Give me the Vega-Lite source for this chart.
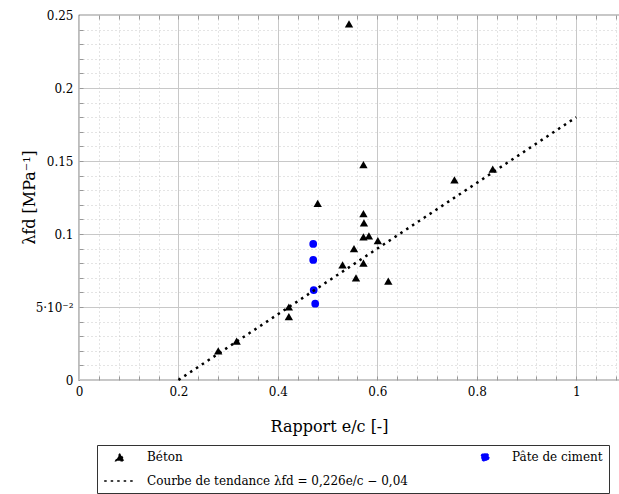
{
"$schema": "https://vega.github.io/schema/vega-lite/v6.json",
"autosize": "none",
"padding": {"left": 79, "top": 15, "right": 0, "bottom": 114},
"width": 547,
"height": 365,
"background": "white",
"config": {
  "font": "DejaVu Serif",
  "view": {"stroke": "#222", "strokeWidth": 1.2},
  "axis": {"labelFont": "DejaVu Serif", "labelFontSize": 12, "labelColor": "black", "titleFont": "DejaVu Serif", "titleColor": "black", "titleFontWeight": "normal", "gridColor": "#c8c8c8", "gridWidth": 1, "tickColor": "#999", "tickWidth": 1, "domain": false, "labelFlush": false, "labelOverlap": false},
  "legend": {"labelFont": "DejaVu Serif", "labelFontSize": 12, "labelColor": "black", "labelLimit": 500}
},
"datasets": {
  "beton": [
    {"ec": 0.543, "lambda": 0.244, "serie": "Béton"},
    {"ec": 0.572, "lambda": 0.1475, "serie": "Béton"},
    {"ec": 0.755, "lambda": 0.137, "serie": "Béton"},
    {"ec": 0.832, "lambda": 0.1445, "serie": "Béton"},
    {"ec": 0.480, "lambda": 0.121, "serie": "Béton"},
    {"ec": 0.572, "lambda": 0.114, "serie": "Béton"},
    {"ec": 0.573, "lambda": 0.1077, "serie": "Béton"},
    {"ec": 0.572, "lambda": 0.098, "serie": "Béton"},
    {"ec": 0.583, "lambda": 0.0988, "serie": "Béton"},
    {"ec": 0.601, "lambda": 0.0954, "serie": "Béton"},
    {"ec": 0.553, "lambda": 0.090, "serie": "Béton"},
    {"ec": 0.530, "lambda": 0.0788, "serie": "Béton"},
    {"ec": 0.572, "lambda": 0.080, "serie": "Béton"},
    {"ec": 0.557, "lambda": 0.070, "serie": "Béton"},
    {"ec": 0.622, "lambda": 0.0678, "serie": "Béton"},
    {"ec": 0.422, "lambda": 0.050, "serie": "Béton"},
    {"ec": 0.422, "lambda": 0.0434, "serie": "Béton"},
    {"ec": 0.317, "lambda": 0.0267, "serie": "Béton"},
    {"ec": 0.280, "lambda": 0.0199, "serie": "Béton"}
  ],
  "pate": [
    {"ec": 0.471, "lambda": 0.0932, "serie": "Pâte de ciment"},
    {"ec": 0.471, "lambda": 0.0822, "serie": "Pâte de ciment"},
    {"ec": 0.472, "lambda": 0.0616, "serie": "Pâte de ciment"},
    {"ec": 0.475, "lambda": 0.0523, "serie": "Pâte de ciment"}
  ],
  "tendance": [
    {"ec": 0.2, "lambda": 0.0, "serie": "Courbe de tendance λfd = 0,226e/c − 0,04"},
    {"ec": 1.0, "lambda": 0.18, "serie": "Courbe de tendance λfd = 0,226e/c − 0,04"}
  ]
},
"layer": [
  {
    "data": {"name": "beton"},
    "mark": {"type": "point", "filled": true, "strokeWidth": 0, "opacity": 1},
    "encoding": {
      "x": {"field": "ec", "type": "quantitative", "scale": {"domain": [0, 1.1], "nice": false, "zero": false},
        "axis": {"orient": "bottom", "values": [0, 0.2, 0.4, 0.6, 0.8, 1], "grid": true, "ticks": false, "labelPadding": 6, "labelExpr": "format(datum.value, '~g')", "title": "Rapport e/c [-]", "titleFontSize": 16, "titleX": 250, "titleY": 38}},
      "y": {"field": "lambda", "type": "quantitative", "scale": {"domain": [0, 0.25], "nice": false},
        "axis": {"orient": "left", "values": [0, 0.05, 0.1, 0.15, 0.2, 0.25], "grid": true, "ticks": false, "labelPadding": 6, "labelExpr": "datum.value === 0.05 ? '5·10⁻²' : format(datum.value, '~g')", "title": "λfd [MPa⁻¹]", "titleFontSize": 16, "titleX": -45, "titleY": 182, "titleBaseline": "alphabetic"}},
      "color": {"field": "serie", "type": "nominal",
        "scale": {"domain": ["Béton", "Pâte de ciment", "Courbe de tendance λfd = 0,226e/c − 0,04"], "range": ["black", "#0000ff", "black"]},
        "legend": {"title": null, "orient": "none", "direction": "horizontal", "legendX": 18, "legendY": 430, "columns": 2, "columnPadding": 60, "rowPadding": 0, "strokeColor": "#333", "fillColor": "white", "padding": 6, "symbolDash": [2.5, 4], "symbolStrokeColor": "black", "labelOffset": 10,
          "encode": {"symbols": {"update": {
            "strokeWidth": {"signal": "datum.value === 'Béton' || datum.value === 'Pâte de ciment' ? 0 : 2.5"},
            "stroke": {"value": "black"}}}}}},
      "shape": {"field": "serie", "type": "nominal",
        "scale": {"domain": ["Béton", "Pâte de ciment", "Courbe de tendance λfd = 0,226e/c − 0,04"], "range": ["triangle-up", "circle", "stroke"]}},
      "size": {"field": "serie", "type": "nominal",
        "scale": {"type": "ordinal", "domain": ["Béton", "Pâte de ciment", "Courbe de tendance λfd = 0,226e/c − 0,04"], "range": [70, 60, 1000]}}
    }
  },
  {
    "data": {"name": "pate"},
    "mark": {"type": "point", "filled": true, "strokeWidth": 0, "opacity": 1},
    "encoding": {
      "x": {"field": "ec", "type": "quantitative", "scale": {"domain": [0, 1.1], "nice": false, "zero": false},
        "axis": {"orient": "bottom", "values": [0.04, 0.08, 0.12, 0.16, 0.2, 0.24, 0.28, 0.32, 0.36, 0.4, 0.44, 0.48, 0.52, 0.56, 0.6, 0.64, 0.68, 0.72, 0.76, 0.8, 0.84, 0.88, 0.92, 0.96, 1, 1.04, 1.08], "grid": true, "gridDash": [1, 3], "ticks": true, "tickSize": -4, "labels": false, "title": null}},
      "y": {"field": "lambda", "type": "quantitative", "scale": {"domain": [0, 0.25], "nice": false},
        "axis": {"orient": "left", "values": [0.01, 0.02, 0.03, 0.04, 0.05, 0.06, 0.07, 0.08, 0.09, 0.1, 0.11, 0.12, 0.13, 0.14, 0.15, 0.16, 0.17, 0.18, 0.19, 0.2, 0.21, 0.22, 0.23, 0.24], "grid": true, "gridDash": [1, 3], "ticks": true, "tickSize": -4, "labels": false, "title": null}},
      "color": {"field": "serie", "type": "nominal",
        "scale": {"domain": ["Béton", "Pâte de ciment", "Courbe de tendance λfd = 0,226e/c − 0,04"], "range": ["black", "#0000ff", "black"]}},
      "shape": {"field": "serie", "type": "nominal",
        "scale": {"domain": ["Béton", "Pâte de ciment", "Courbe de tendance λfd = 0,226e/c − 0,04"], "range": ["triangle-up", "circle", "stroke"]}},
      "size": {"field": "serie", "type": "nominal",
        "scale": {"type": "ordinal", "domain": ["Béton", "Pâte de ciment", "Courbe de tendance λfd = 0,226e/c − 0,04"], "range": [70, 60, 1000]}}
    }
  },
  {
    "data": {"name": "tendance"},
    "mark": {"type": "line", "strokeDash": [2.5, 4.5], "strokeWidth": 2.5},
    "encoding": {
      "x": {"field": "ec", "type": "quantitative", "scale": {"domain": [0, 1.1], "nice": false, "zero": false},
        "axis": {"orient": "top", "values": [0.04, 0.08, 0.12, 0.16, 0.2, 0.24, 0.28, 0.32, 0.36, 0.4, 0.44, 0.48, 0.52, 0.56, 0.6, 0.64, 0.68, 0.72, 0.76, 0.8, 0.84, 0.88, 0.92, 0.96, 1, 1.04, 1.08], "grid": false, "ticks": true, "tickSize": -4, "labels": false, "title": null}},
      "y": {"field": "lambda", "type": "quantitative", "scale": {"domain": [0, 0.25], "nice": false}, "axis": null},
      "color": {"field": "serie", "type": "nominal",
        "scale": {"domain": ["Béton", "Pâte de ciment", "Courbe de tendance λfd = 0,226e/c − 0,04"], "range": ["black", "#0000ff", "black"]}}
    }
  }
],
"resolve": {"axis": {"x": "independent", "y": "independent"}}
}
